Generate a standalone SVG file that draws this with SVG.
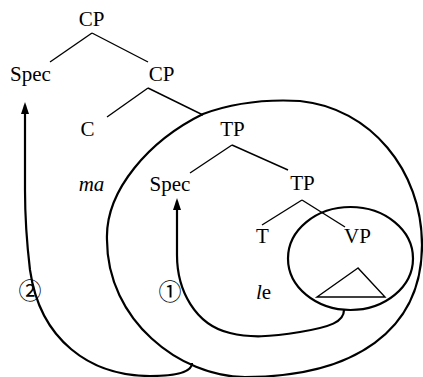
<svg xmlns="http://www.w3.org/2000/svg" width="423" height="377" viewBox="0 0 423 377">
<style>
text{font-family:"Liberation Serif","Times New Roman",serif;font-size:21px;fill:#000;text-anchor:middle}
.it{font-style:italic}
.num{font-family:"Noto Sans CJK JP","DejaVu Sans",sans-serif;font-size:23px}
.br{stroke:#000;stroke-width:1.4;fill:none}
.loop{stroke:#000;stroke-width:2.2;fill:none}
</style>
<defs>
<marker id="ah" markerUnits="userSpaceOnUse" viewBox="0 0 12 8" markerWidth="12" markerHeight="8" refX="9" refY="4" orient="auto">
<path d="M0,0 L12,4 L0,8 Z" fill="#000"/>
</marker>
</defs>
<g id="connectors">
<line class="br" x1="92" y1="33" x2="50" y2="62"/>
<line class="br" x1="92" y1="33" x2="148" y2="62"/>
<line class="br" x1="148" y1="88" x2="107" y2="117"/>
<line class="br" x1="148" y1="88" x2="203" y2="115"/>
<line class="br" x1="232" y1="145" x2="190" y2="173"/>
<line class="br" x1="232" y1="145" x2="288" y2="170"/>
<line class="br" x1="302" y1="200" x2="262" y2="225"/>
<line class="br" x1="302" y1="200" x2="345" y2="227"/>
<path id="move2" class="loop" d="M192,363 C192,372 178,376 150,376 C90,376 40,340 30,270 C27,245 25,220 25,190 L25,105" marker-end="url(#ah)"/>
<path id="move1" class="loop" d="M344,310 C344,322 330,327 300,332 C270,337 250,338 230,333 C195,325 177,290 177,255 L177,201" marker-end="url(#ah)"/>
</g>
<g id="tp-domain">
<path class="loop" d="M107,240 C105,190 150,140 203,114 C230,104 265,99 300,101 C370,108 422,170 422,245 C422,330 355,377 245,377 C180,377 107,320 107,240 Z"/>
</g>
<g id="vp-domain">
<ellipse class="loop" cx="350.5" cy="258.5" rx="62.5" ry="51.5"/>
<path class="br" d="M358,268 L317,297 L385,297 Z"/>
</g>
<g id="cp-top"><text x="91.5" y="26">CP</text></g>
<g id="spec-cp"><text x="30.5" y="81">Spec</text></g>
<g id="cp-bar"><text x="161.5" y="81">CP</text></g>
<g id="c-head"><text x="87.5" y="136">C</text></g>
<g id="tp-top"><text x="232.5" y="136">TP</text></g>
<g id="ma"><text class="it" x="91.5" y="191">ma</text></g>
<g id="spec-tp"><text x="170" y="191">Spec</text></g>
<g id="tp-bar"><text x="302.5" y="190">TP</text></g>
<g id="t-head"><text x="262.5" y="243">T</text></g>
<g id="vp"><text x="357.5" y="243">VP</text></g>
<g id="le"><text x="263.5" y="299"><tspan class="it">l</tspan>e</text></g>
<g id="label2"><text class="num" x="30" y="299">②</text></g>
<g id="label1"><text class="num" x="170" y="300">①</text></g>
</svg>
